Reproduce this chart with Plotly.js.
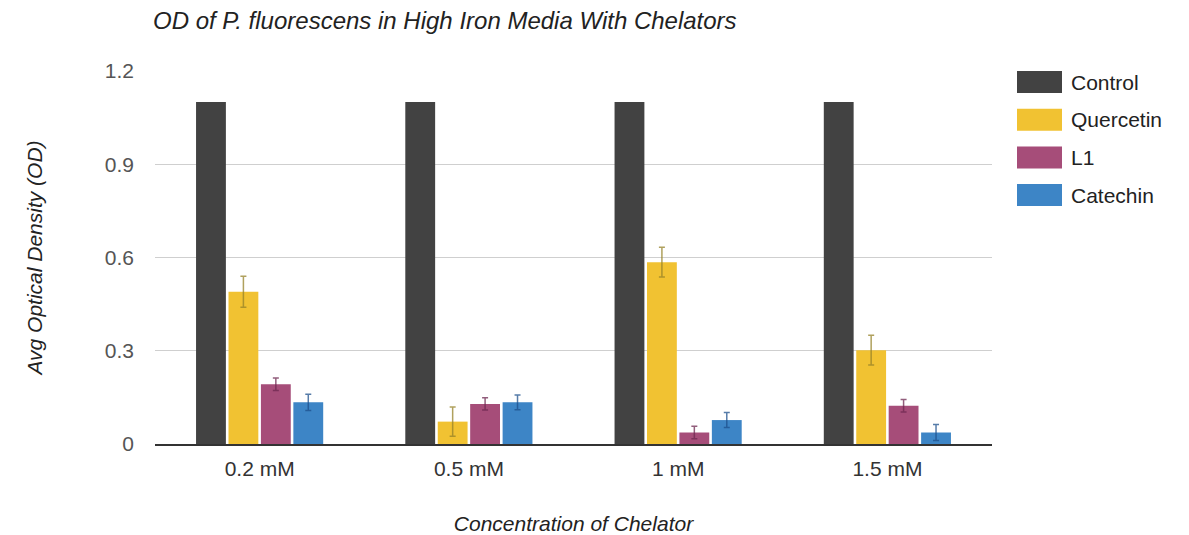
<!DOCTYPE html>
<html>
<head>
<meta charset="utf-8">
<script src="https://cdn.plot.ly/plotly-3.0.1.min.js"></script>
<style>html,body{margin:0;padding:0;background:#fff;}#chart{width:1189px;height:535px;}</style>
</head>
<body>
<div id="chart"></div>
<script>
const categories = ["0.2 mM", "0.5 mM", "1 mM", "1.5 mM"];
const seriesNames = ["Control", "Quercetin", "L1", "Catechin"];
const controlValues = [1.1, 1.1, 1.1, 1.1];
const quercetinValues = [0.49, 0.072, 0.585, 0.302];
const l1Values = [0.192, 0.129, 0.037, 0.123];
const catechinValues = [0.134, 0.134, 0.077, 0.037];
const quercetinErr = [0.05, 0.047, 0.048, 0.048];
const l1Err = [0.02, 0.02, 0.02, 0.02];
const catechinErr = [0.026, 0.024, 0.024, 0.026];
const yTicks = [0, 0.3, 0.6, 0.9, 1.2];
const yTickLabels = ["0", "0.3", "0.6", "0.9", "1.2"];

const colors = ["#424242", "#f1c232", "#a64d79", "#3d85c6"];
const errColors = ["#424242", "rgba(150,130,40,0.75)", "rgba(110,40,80,0.75)", "rgba(30,80,140,0.75)"];
const values = [controlValues, quercetinValues, l1Values, catechinValues];
const errs = [null, quercetinErr, l1Err, catechinErr];
const FONT = "Liberation Sans, Arial, sans-serif";

const traces = seriesNames.map((name, i) => {
  const t = {
    type: "bar", name: name, x: categories, y: values[i],
    marker: {color: colors[i], line: {width: 0}},
    showlegend: false
  };
  if (errs[i]) {
    t.error_y = {type: "data", array: errs[i], visible: true, color: errColors[i], thickness: 1.5, width: 3};
  }
  return t;
});

const shapes = [];
const annotations = [];
const legY0 = 82, legStep = 37.7;
seriesNames.forEach((name, i) => {
  const yc = legY0 + i * legStep;
  shapes.push({type: "rect", xref: "paper", yref: "paper",
    x0: (1017 - 155) / 837, x1: (1062 - 155) / 837,
    y0: (444 - (yc + 11)) / 373, y1: (444 - (yc - 11)) / 373,
    fillcolor: colors[i], line: {width: 0}});
  annotations.push({xref: "paper", yref: "paper", x: (1069 - 155) / 837, y: (444 - yc) / 373,
    xanchor: "left", yanchor: "middle", showarrow: false, text: name,
    font: {family: FONT, size: 21, color: "#222"}});
});

const layout = {
  width: 1189, height: 535,
  margin: {l: 155, r: 197, t: 71, b: 91},
  paper_bgcolor: "#fff", plot_bgcolor: "#fff",
  barmode: "group", bargap: 0.38, bargroupgap: 0.08,
  title: {text: "OD of P. fluorescens in High Iron Media With Chelators", x: 153 / 1189, xanchor: "left", y: 1 - 21 / 535, yanchor: "middle",
    font: {family: FONT, size: 24, color: "#222", style: "italic"}},
  font: {family: FONT},
  xaxis: {
    type: "category", showgrid: false, showline: true, linecolor: "#333", linewidth: 1.5,
    ticks: "", ticklabelstandoff: 5,
    tickfont: {size: 21, color: "#333"},
    title: {text: "Concentration of Chelator", standoff: 40, font: {size: 21, color: "#222", style: "italic"}}
  },
  yaxis: {
    range: [0, 1.2], tickvals: yTicks, ticktext: yTickLabels,
    showgrid: true, gridcolor: "#cfcfcf", gridwidth: 1, zeroline: false,
    ticks: "", ticklabelstandoff: 20,
    tickfont: {size: 21, color: "#555"},
    title: {text: "Avg Optical Density (OD)", standoff: 56, font: {size: 21, color: "#222", style: "italic"}}
  },
  shapes: shapes,
  annotations: annotations
};

Plotly.newPlot("chart", traces, layout, {displayModeBar: false, staticPlot: true});
</script>
</body>
</html>
